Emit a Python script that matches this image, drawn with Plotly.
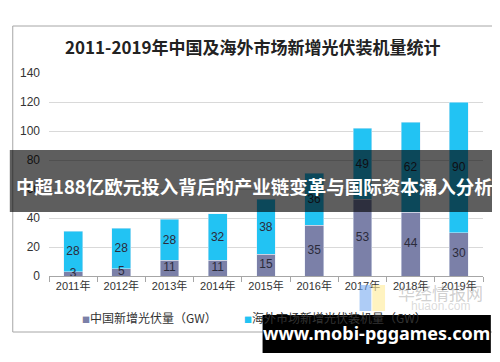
import plotly.graph_objects as go

years = ["2011年", "2012年", "2013年", "2014年", "2015年", "2016年", "2017年", "2018年", "2019年"]
china = [3, 5, 11, 11, 15, 35, 53, 44, 30]
overseas = [28, 28, 28, 32, 38, 36, 49, 62, 90]

C_CHINA = "#7b80a8"
C_OVER = "#22c3f3"
FONT = "Liberation Sans, Noto Sans CJK SC, sans-serif"
LABEL = dict(size=12, color="#2b2b3b", family=FONT)

fig = go.Figure()
fig.add_trace(go.Bar(x=years, y=china, name="中国新增光伏量（GW）", marker_color=C_CHINA))
fig.add_trace(go.Bar(
    x=years, y=overseas, name="海外市场新增光伏装机量（GW）", marker_color=C_OVER,
    text=overseas, textposition="inside", insidetextanchor="middle",
    constraintext="none", textangle=0, textfont=LABEL,
))
# China value labels centred in their segments (small bars would shrink bar text)
fig.add_trace(go.Scatter(
    x=years, y=[v / 2 for v in china], mode="text", text=[str(v) for v in china],
    textposition="middle center", textfont=LABEL, hoverinfo="skip", showlegend=False,
))

# page body has an 8px margin: work in screen pixels, convert to figure pixels
OFF = 8
W, H = 500 - OFF, 362 - OFF
L, R, T, B = 40 - OFF, 483 - OFF, 73 - OFF, 276 - OFF
PW, PH = R - L, B - T
def px(x): return (x - OFF - L) / PW
def py(y): return (B - (y - OFF)) / PH

shapes = [
    dict(type="rect", xref="paper", yref="paper", x0=px(3), x1=px(494), y0=py(332), y1=py(26),
         line=dict(color="#a6a6a6", width=1), fillcolor="rgba(0,0,0,0)", layer="below"),
    dict(type="rect", xref="paper", yref="paper", x0=px(357), x1=px(369), y0=py(311), y1=py(285),
         line=dict(width=0), fillcolor="rgba(120,170,240,0.6)", layer="above"),
    dict(type="rect", xref="paper", yref="paper", x0=px(370), x1=px(383), y0=py(311), y1=py(285),
         line=dict(width=0), fillcolor="rgba(255,235,150,0.6)", layer="above"),
    dict(type="rect", xref="paper", yref="paper", x0=px(0), x1=px(502), y0=py(212), y1=py(150),
         line=dict(width=0), fillcolor="rgba(0,0,0,0.63)", layer="above"),
    dict(type="rect", xref="paper", yref="paper", x0=px(258), x1=px(491), y0=py(353), y1=py(315),
         line=dict(width=0), fillcolor="#000000", layer="above"),
]

annotations = [
    dict(text="<b>2011-2019年中国及海外市场新增光伏装机量统计</b>", xref="paper", yref="paper",
         x=px(248), y=py(46), showarrow=False, xanchor="center", yanchor="middle",
         font=dict(size=17, color="#222222", family="Noto Sans CJK SC")),
    dict(text=f"<span style='color:{C_CHINA};font-size:8px'>■</span>中国新增光伏量（GW）",
         xref="paper", yref="paper", x=px(72), y=py(317), showarrow=False,
         xanchor="left", yanchor="middle", font=dict(size=12, color="#333333", family="Noto Sans CJK SC")),
    dict(text=f"<span style='color:{C_OVER};font-size:8px'>■</span>海外市场新增光伏装机量（GW）",
         xref="paper", yref="paper", x=px(237), y=py(317), showarrow=False,
         xanchor="left", yanchor="middle", font=dict(size=12, color="#333333", family="Noto Sans CJK SC")),
    dict(text="华经情报网", xref="paper", yref="paper", x=px(440), y=py(292), showarrow=False,
         xanchor="center", yanchor="middle", font=dict(size=17, color="rgba(150,150,150,0.45)", family="Noto Sans CJK SC")),
    dict(text="huaon.com", xref="paper", yref="paper", x=px(440), y=py(306), showarrow=False,
         xanchor="center", yanchor="middle", font=dict(size=12, color="rgba(150,150,150,0.35)", family=FONT)),
    dict(text="<b>中超188亿欧元投入背后的产业链变革与国际资本涌入分析</b>", xref="paper", yref="paper",
         x=px(250), y=py(186), showarrow=False, xanchor="center", yanchor="middle",
         font=dict(size=18.5, color="#ffffff", family="Noto Sans CJK SC")),
    dict(text="<b>www.mobi-pggames.com</b>", xref="paper", yref="paper",
         x=px(374), y=py(333), showarrow=False, xanchor="center", yanchor="middle",
         font=dict(size=18, color="#ffffff", family="Noto Sans, sans-serif")),
]

fig.update_layout(
    width=W, height=H,
    margin=dict(l=L, r=W - R, t=T, b=H - B),
    barmode="stack", bargap=0.61,
    plot_bgcolor="white", paper_bgcolor="white",
    showlegend=False,
    shapes=shapes, annotations=annotations,
    font=dict(family=FONT, color="#333333"),
    xaxis=dict(
        showgrid=False, showline=True, linecolor="#a6a6a6", linewidth=1,
        ticks="outside", tickson="boundaries", ticklen=5, tickcolor="#a6a6a6",
        tickfont=dict(size=11, color="#333333", family=FONT), fixedrange=True,
    ),
    yaxis=dict(
        range=[0, 140], dtick=20, showgrid=True, gridcolor="#d9d9d9", gridwidth=1,
        zeroline=False, showline=False, ticks="", ticklabelstandoff=8,
        tickfont=dict(size=12, color="#333333", family=FONT), fixedrange=True,
    ),
)

fig.write_html("out.html")
